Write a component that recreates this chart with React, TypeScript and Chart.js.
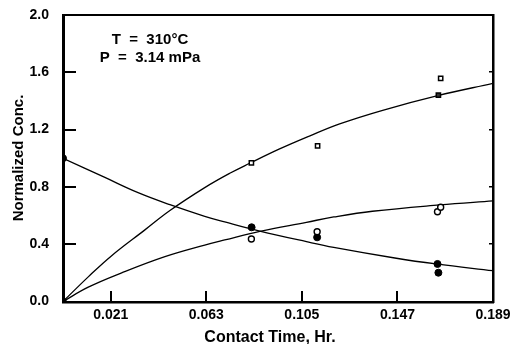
import React, { useEffect, useRef } from "react";
import { Chart, registerables } from "chart.js";

Chart.register(...registerables);

// Axis ticks
const timeTicks = [0.021, 0.063, 0.105, 0.147, 0.189];
const concTicks = [0, 0.4, 0.8, 1.2, 1.6, 2.0];

// Fitted curves
const decayX = [0, 0.0184, 0.033, 0.047, 0.0623, 0.0711, 0.0865, 0.107, 0.119, 0.1465, 0.164, 0.189];
const decayY = [1.0, 0.866, 0.76, 0.676, 0.595, 0.556, 0.492, 0.418, 0.378, 0.302, 0.262, 0.215];

const upperX = [0, 0.0111, 0.021, 0.036, 0.047, 0.0623, 0.0733, 0.0821, 0.0952, 0.1083, 0.1216, 0.1405, 0.1647, 0.189];
const upperY = [0, 0.172, 0.315, 0.5, 0.635, 0.795, 0.895, 0.965, 1.065, 1.155, 1.24, 1.335, 1.437, 1.523];

const lowerX = [0, 0.0111, 0.0258, 0.0448, 0.0623, 0.0711, 0.0865, 0.107, 0.119, 0.136, 0.1655, 0.189];
const lowerY = [0, 0.1, 0.2, 0.313, 0.394, 0.43, 0.49, 0.553, 0.59, 0.63, 0.674, 0.702];

// Measured points
const squareX = [0, 0.0828, 0.1119, 0.166, 0.165];
const squareY = [0, 0.967, 1.086, 1.558, 1.441];

const filledX = [0, 0.0829, 0.1117, 0.1646, 0.165];
const filledY = [1.0, 0.518, 0.448, 0.262, 0.201];

const openX = [0, 0.0828, 0.1117, 0.1646, 0.166];
const openY = [0, 0.436, 0.487, 0.627, 0.658];

const xTitle = "Contact Time, Hr.";
const yTitle = "Normalized Conc.";
const noteLines = ["T  =  310°C", "P  =  3.14 mPa"];

const pts = (xs: number[], ys: number[]) => xs.map((x, i) => ({ x, y: ys[i] }));

const FONT = "'Liberation Sans', Arial, Helvetica, sans-serif";

const framePlugin = {
  id: "frame",
  afterDraw(chart: any) {
    const ctx = chart.ctx;
    const a = chart.chartArea;
    const xs = chart.scales.x;
    const ys = chart.scales.y;
    ctx.save();
    ctx.fillStyle = "#000";
    const L = Math.round(a.left);
    const R = Math.round(a.right);
    const T = Math.round(a.top);
    const B = Math.round(a.bottom);
    ctx.fillRect(L - 1, T - 1, 3, B - T + 2);
    ctx.fillRect(L - 1, B - 1, R - L + 2, 2.5);
    ctx.fillRect(L - 1, T - 1, R - L + 2, 2);
    ctx.fillRect(R - 1, T - 1, 2.5, B - T + 2);
    for (let i = 0; i < timeTicks.length - 1; i++) {
      const px = Math.round(xs.getPixelForValue(timeTicks[i]));
      ctx.fillRect(px - 1, B - 11, 2, 11);
    }
    for (let i = 1; i < concTicks.length - 1; i++) {
      const py = Math.round(ys.getPixelForValue(concTicks[i]));
      ctx.fillRect(L, py - 1, 13, 2);
      ctx.fillRect(R - 4, py - 1, 4, 1.5);
    }
    ctx.font = `bold 15px ${FONT}`;
    ctx.textAlign = "center";
    ctx.textBaseline = "middle";
    ctx.fillText(noteLines[0], 150, 40);
    ctx.fillText(noteLines[1], 150, 58);
    // axis titles
    ctx.font = `bold 16px ${FONT}`;
    ctx.textBaseline = "alphabetic";
    ctx.fillText(xTitle, 270, 342);
    ctx.translate(19, 158);
    ctx.rotate(-Math.PI / 2);
    ctx.font = `bold 15px ${FONT}`;
    ctx.textBaseline = "middle";
    ctx.fillText(yTitle, 0, 0);
    ctx.restore();
  },
};

export default function App() {
  const ref = useRef<HTMLCanvasElement>(null);
  useEffect(() => {
    const lineDs = (xs: number[], ys: number[]) => ({
      type: "line" as const,
      data: pts(xs, ys),
      borderColor: "#000",
      borderWidth: 1.3,
      pointRadius: 0,
      fill: false,
      tension: 0.4,
      order: 2,
    });
    const chart = new Chart(ref.current!, {
      type: "scatter",
      data: {
        datasets: [
          lineDs(decayX, decayY),
          lineDs(upperX, upperY),
          lineDs(lowerX, lowerY),
          {
            data: pts(squareX, squareY),
            pointStyle: "rect",
            pointRadius: 3,
            pointBorderWidth: 1.5,
            pointBorderColor: "#000",
            pointBackgroundColor: ["#000", "#fff", "#fff", "#fff", "#333"],
            order: 1,
          } as any,
          {
            data: pts(openX, openY),
            pointStyle: "circle",
            pointRadius: 3,
            pointBorderWidth: 1.4,
            pointBorderColor: "#000",
            pointBackgroundColor: ["#000", "#fff", "#fff", "#fff", "#fff"],
            order: 1,
          } as any,
          {
            data: pts(filledX, filledY),
            pointStyle: "circle",
            pointRadius: 3.5,
            pointBorderWidth: 1,
            pointBorderColor: "#000",
            pointBackgroundColor: "#000",
            order: 1,
          } as any,
        ],
      },
      options: {
        responsive: false,
        animation: false,
        layout: { padding: { left: 0, right: 28, top: 15, bottom: 0 } },
        plugins: { legend: { display: false }, tooltip: { enabled: false } },
        scales: {
          x: {
            type: "linear",
            min: 0,
            max: 0.189,
            afterBuildTicks: (s: any) => {
              s.ticks = timeTicks.map((v) => ({ value: v }));
            },
            afterFit: (s: any) => {
              s.height = 42.5;
              s.paddingLeft = 0;
              s.paddingRight = 0;
            },
            ticks: {
              color: "#000",
              font: { family: FONT, size: 14, weight: "bold" },
              padding: 5,
              maxRotation: 0,
              autoSkip: false,
              callback: (v: any) => Number(v).toFixed(3),
            },
            grid: { display: false, drawTicks: false },
            border: { display: false },
          },
          y: {
            type: "linear",
            min: 0,
            max: 2.0,
            afterBuildTicks: (s: any) => {
              s.ticks = concTicks.map((v) => ({ value: v }));
            },
            afterFit: (s: any) => {
              s.width = 63;
              s.paddingTop = 0;
              s.paddingBottom = 0;
            },
            ticks: {
              color: "#000",
              font: { family: FONT, size: 14, weight: "bold" },
              padding: 14,
              callback: (v: any) => Number(v).toFixed(1),
            },
            grid: { display: false, drawTicks: false },
            border: { display: false },
          },
        },
      },
      plugins: [framePlugin],
    });
    return () => chart.destroy();
  }, []);
  return (
    <div style={{ position: "absolute", left: 0, top: 0, width: 521, height: 344, background: "#fff" }}>
      <canvas ref={ref} width={521} height={344} style={{ display: "block" }} />
    </div>
  );
}
